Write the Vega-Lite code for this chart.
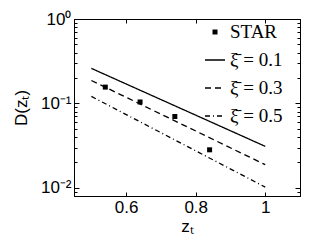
{
  "$schema": "https://vega.github.io/schema/vega-lite/v6.json",
  "width": 226,
  "height": 177,
  "autosize": {"type": "none"},
  "padding": {"left": 74, "top": 19, "right": 32, "bottom": 54},
  "background": "white",
  "config": {
    "view": {"stroke": "black", "strokeWidth": 1},
    "axis": {
      "domainColor": "black",
      "tickColor": "black",
      "labelColor": "black",
      "titleColor": "black",
      "labelFont": "Liberation Sans",
      "titleFont": "Liberation Sans",
      "labelFontSize": 17,
      "titleFontSize": 17,
      "titleFontWeight": "normal",
      "grid": false
    }
  },
  "datasets": {
    "lines": [
      {"z": 0.5, "D": 0.26, "s": "ξ̄ = 0.1"},
      {"z": 1.0, "D": 0.031, "s": "ξ̄ = 0.1"},
      {"z": 0.5, "D": 0.187, "s": "ξ̄ = 0.3"},
      {"z": 1.0, "D": 0.0188, "s": "ξ̄ = 0.3"},
      {"z": 0.5, "D": 0.121, "s": "ξ̄ = 0.5"},
      {"z": 1.0, "D": 0.0102, "s": "ξ̄ = 0.5"}
    ],
    "star": [
      {"z": 0.54, "D": 0.156},
      {"z": 0.64, "D": 0.104},
      {"z": 0.74, "D": 0.07},
      {"z": 0.84, "D": 0.0282}
    ]
  },
  "layer": [
    {
      "data": {"name": "lines"},
      "mark": {"type": "line", "color": "black", "strokeWidth": 1.3},
      "encoding": {
        "x": {
          "field": "z", "type": "quantitative",
          "scale": {"domain": [0.45, 1.1], "nice": false, "zero": false},
          "axis": {"orient": "bottom", "values": [0.6, 0.8, 1], "format": ".1~f", "tickSize": -4, "labelPadding": 7, "title": "zₜ", "titlePadding": 3}
        },
        "y": {
          "field": "D", "type": "quantitative",
          "scale": {"type": "log", "domain": [0.008, 1], "nice": false},
          "axis": {
            "orient": "left",
            "values": [0.008, 0.009, 0.01, 0.02, 0.03, 0.04, 0.05, 0.06, 0.07, 0.08, 0.09, 0.1, 0.2, 0.3, 0.4, 0.5, 0.6, 0.7, 0.8, 0.9, 1],
            "labelExpr": "datum.value == 1 ? '10⁰' : datum.value == 0.1 ? '10⁻¹' : datum.value == 0.01 ? '10⁻²' : ''",
            "tickSize": {"condition": {"test": "datum.value == 1 || datum.value == 0.1 || datum.value == 0.01", "value": -5}, "value": -3},
            "labelPadding": 8,
            "title": "D(zₜ)",
            "titlePadding": 10
          }
        },
        "strokeDash": {
          "field": "s", "type": "nominal",
          "scale": {"domain": ["STAR", "ξ̄ = 0.1", "ξ̄ = 0.3", "ξ̄ = 0.5"], "range": [[1, 0], [1, 0], [6, 4], [5, 3, 1, 3]]},
          "legend": {
            "orient": "none",
            "legendX": 130,
            "legendY": 2,
            "padding": 0,
            "title": null,
            "labelFont": "Liberation Serif",
            "labelFontSize": 19,
            "labelColor": "black",
            "symbolType": "stroke",
            "symbolStrokeColor": "black",
            "symbolStrokeWidth": 1.3,
            "symbolSize": 400,
            "rowPadding": 7,
            "labelOffset": 4,
            "encode": {
              "symbols": {
                "update": {
                  "shape": {"signal": "datum.value === 'STAR' ? 'square' : 'stroke'"},
                  "fill": {"signal": "datum.value === 'STAR' ? 'black' : 'transparent'"},
                  "stroke": {"signal": "datum.value === 'STAR' ? 'transparent' : 'black'"},
                  "size": {"signal": "datum.value === 'STAR' ? 25 : 400"}
                }
              }
            }
          }
        }
      }
    },
    {
      "data": {"name": "star"},
      "mark": {"type": "square", "color": "black", "size": 25, "opacity": 1},
      "encoding": {
        "x": {
          "field": "z", "type": "quantitative",
          "axis": {"orient": "top", "values": [0.6, 0.8, 1], "labels": false, "tickSize": -4, "title": null}
        },
        "y": {
          "field": "D", "type": "quantitative",
          "axis": {
            "orient": "right",
            "values": [0.008, 0.009, 0.01, 0.02, 0.03, 0.04, 0.05, 0.06, 0.07, 0.08, 0.09, 0.1, 0.2, 0.3, 0.4, 0.5, 0.6, 0.7, 0.8, 0.9, 1],
            "labels": false,
            "tickSize": {"condition": {"test": "datum.value == 1 || datum.value == 0.1 || datum.value == 0.01", "value": -5}, "value": -3},
            "title": null
          }
        }
      }
    }
  ],
  "resolve": {"axis": {"x": "independent", "y": "independent"}}
}
